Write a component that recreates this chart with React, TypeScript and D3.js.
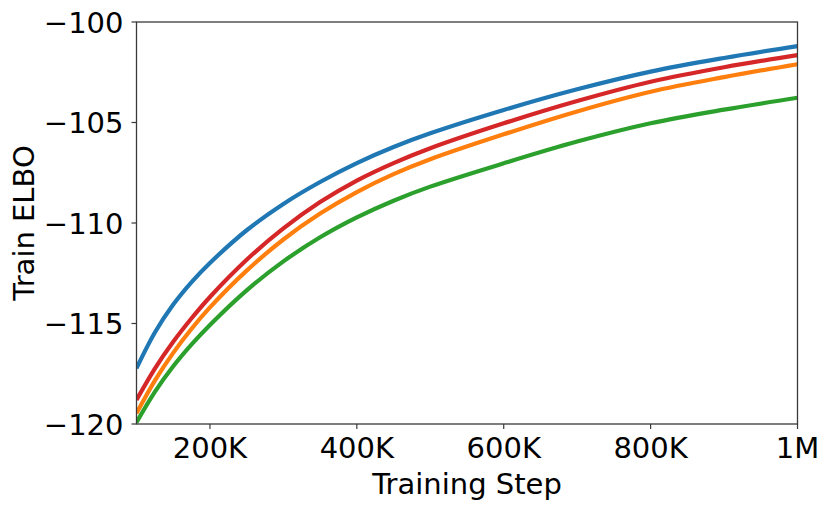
import React, { useEffect } from "react";
import * as d3 from "d3";

const steps = [100, 125, 150, 175, 200, 250, 300, 350, 400, 450, 500, 600, 700, 800, 900, 1000];

const blueElbo = [-117.23, -115.45, -114.06, -112.94, -111.99, -110.36, -109.05, -107.96, -107.02, -106.22, -105.54, -104.38, -103.35, -102.47, -101.79, -101.2];
const redElbo = [-118.8, -117.24, -115.91, -114.74, -113.68, -111.83, -110.27, -108.96, -107.89, -107.02, -106.28, -105.04, -103.93, -102.97, -102.25, -101.65];
const orangeElbo = [-119.47, -117.84, -116.46, -115.26, -114.2, -112.37, -110.82, -109.53, -108.46, -107.57, -106.83, -105.59, -104.45, -103.47, -102.74, -102.1];
const greenElbo = [-119.92, -118.4, -117.13, -116.04, -115.07, -113.35, -111.91, -110.71, -109.72, -108.89, -108.19, -107.03, -105.95, -105.04, -104.36, -103.77];

const xTicks = [200, 400, 600, 800, 1000];
const xTickLabels = ["200K", "400K", "600K", "800K", "1M"];
const yTicks = [-120, -115, -110, -105, -100];

const series = [
  { name: "blue", color: "#1f77b4", values: blueElbo },
  { name: "orange", color: "#ff7f0e", values: orangeElbo },
  { name: "green", color: "#2ca02c", values: greenElbo },
  { name: "red", color: "#d62728", values: redElbo },
];

const W = 831;
const H = 509;
const FONT = "'DejaVu Sans', sans-serif";

export default function App() {
  useEffect(() => {
    document.body.style.margin = "0";
  }, []);

  const margin = { left: 136.5, right: 797.5, top: 22, bottom: 424 };

  const x = d3.scaleLinear().domain([100, 1000]).range([margin.left, margin.right]);
  const y = d3.scaleLinear().domain([-120, -100]).range([margin.bottom, margin.top]);

  // centripetal catmull-rom copes better with the uneven step spacing
  const line = (vals: number[]) =>
    d3
      .line<number>()
      .x((_, i) => x(steps[i]))
      .y((d) => y(d))
      .curve(d3.curveCatmullRom.alpha(0.5))(vals) || "";

  const minus = (v: number) => (v < 0 ? "\u2212" + Math.abs(v) : String(v));
  const axisColor = "#3a3a3a";

  return (
    <svg width={W} height={H} style={{ display: "block", background: "#fff" }}>
      <defs>
        <clipPath id="plot-clip">
          <rect x={margin.left} y={margin.top} width={margin.right - margin.left} height={margin.bottom - margin.top} />
        </clipPath>
      </defs>

      <g clipPath="url(#plot-clip)">
        {series.map((s) => (
          <path key={s.name} d={line(s.values)} fill="none" stroke={s.color} strokeWidth={4.2} strokeLinecap="butt" />
        ))}
      </g>

      {/* frame */}
      <rect
        x={margin.left}
        y={margin.top}
        width={margin.right - margin.left}
        height={margin.bottom - margin.top}
        fill="none"
        stroke={axisColor}
        strokeWidth={1.3}
      />

      {/* x ticks */}
      {xTicks.map((t, i) => (
        <g key={t}>
          <line x1={x(t)} x2={x(t)} y1={margin.bottom} y2={margin.bottom + 5} stroke={axisColor} strokeWidth={1.2} />
          <text x={x(t)} y={457.5} textAnchor="middle" fontFamily={FONT} fontSize={29} fill="#000">
            {xTickLabels[i]}
          </text>
        </g>
      ))}

      {/* y ticks */}
      {yTicks.map((t) => (
        <g key={t}>
          <line x1={margin.left - 5} x2={margin.left} y1={y(t)} y2={y(t)} stroke={axisColor} strokeWidth={1.2} />
          <text x={123.5} y={y(t) + 10.5} textAnchor="end" fontFamily={FONT} fontSize={29} fill="#000">
            {minus(t)}
          </text>
        </g>
      ))}

      <text x={(margin.left + margin.right) / 2} y={493.5} textAnchor="middle" fontFamily={FONT} fontSize={29} fill="#000">
        Training Step
      </text>
      <text
        transform={`translate(33.5, ${(margin.top + margin.bottom) / 2}) rotate(-90)`}
        textAnchor="middle"
        fontFamily={FONT}
        fontSize={29}
        fill="#000"
      >
        Train ELBO
      </text>
    </svg>
  );
}
